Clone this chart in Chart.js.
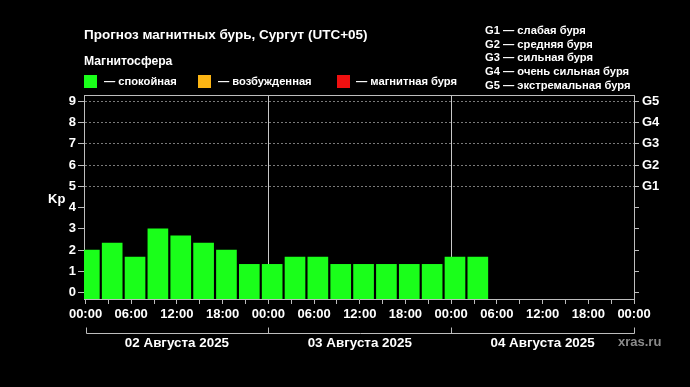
<!DOCTYPE html>
<html>
<head>
<meta charset="utf-8">
<script src="https://cdn.jsdelivr.net/npm/chart.js@4.4.1/dist/chart.umd.min.js"></script>
<style>
  html, body { margin: 0; padding: 0; background: #000; }
  #wrap { position: relative; width: 690px; height: 387px; background: #000; overflow: hidden;
          font-family: 'Liberation Sans', Arial, sans-serif; font-weight: bold; color: #fff; }
  #wrap canvas { position: absolute; left: 0; top: 0; }
  .txt { position: absolute; white-space: nowrap; line-height: 16px; }
  .sq { position: absolute; width: 13px; height: 13px; }
  #glist { position: absolute; left: 485px; top: 24px; font-size: 11.2px; line-height: 13.7px; }
</style>
</head>
<body>
<div id="wrap">
  <canvas id="kpChart" width="690" height="387"></canvas>
  <div class="txt" style="left:84px; top:27px; font-size:13.5px;">Прогноз магнитных бурь, Сургут (UTC+05)</div>
  <div class="txt" style="left:84px; top:53px; font-size:12.2px;">Магнитосфера</div>
  <div class="sq" style="left:84px; top:75px; background:#1aff1a;"></div>
  <div class="txt" style="left:104px; top:73px; font-size:11.2px;">— спокойная</div>
  <div class="sq" style="left:198px; top:75px; background:#fcb514;"></div>
  <div class="txt" style="left:218px; top:73px; font-size:11.2px;">— возбужденная</div>
  <div class="sq" style="left:337px; top:75px; background:#f01010;"></div>
  <div class="txt" style="left:356px; top:73px; font-size:11.2px;">— магнитная буря</div>
  <div id="glist"></div>
  <div class="txt" style="left:48px; top:191px; font-size:13px;">Kp</div>
  <div class="txt" style="left:618px; top:334px; font-size:13px; color:#8a8a8a;">xras.ru</div>
</div>
<script>
// Kp forecast, 3-hour slots starting 02 Aug 2025 00:00 (UTC+05)
const slotHours = [0, 3, 6, 9, 12, 15, 18, 21, 24, 27, 30, 33, 36, 39, 42, 45, 48, 51];
const kpValues = [2, 2.33, 1.67, 3, 2.67, 2.33, 2, 1.33,
                  1.33, 1.67, 1.67, 1.33, 1.33, 1.33, 1.33, 1.33,
                  1.67, 1.67];
const dayLabels = ['02 Августа 2025', '03 Августа 2025', '04 Августа 2025'];
const timeLabels = ['00:00', '06:00', '12:00', '18:00'];
const kpTicks = [0, 1, 2, 3, 4, 5, 6, 7, 8, 9];
const stormLabels = ['G1', 'G2', 'G3', 'G4', 'G5'];
const stormNames = ['слабая буря', 'средняя буря', 'сильная буря', 'очень сильная буря', 'экстремальная буря'];

document.getElementById('glist').innerHTML = stormLabels
    .map((g, i) => `<div>${g} — ${stormNames[i]}</div>`).join('');

const AXIS = '#bdbdbd';
const FONT = { family: "'Liberation Sans', Arial, sans-serif", size: 13, weight: 'bold' };
const Y_MIN = -0.3, Y_MAX = 9.3;

function kpColor(v) {
    if (v >= 5) return '#f01010';
    if (v >= 4) return '#fcb514';
    return '#1aff1a';
}

// top edge of the frame + day brackets under the time axis
const dayBrackets = {
    id: 'dayBrackets',
    afterDraw(chart) {
        const { ctx, chartArea, scales: { x } } = chart;
        ctx.save();
        ctx.strokeStyle = AXIS;
        ctx.lineWidth = 1;
        ctx.beginPath();
        ctx.moveTo(chartArea.left, chartArea.top + 0.5);
        ctx.lineTo(chartArea.right, chartArea.top + 0.5);
        ctx.stroke();

        const yLine = Math.round(chartArea.bottom + 34) + 0.5;
        ctx.beginPath();
        ctx.moveTo(Math.round(x.getPixelForValue(0)) + 0.5, yLine);
        ctx.lineTo(Math.round(x.getPixelForValue(72)) + 0.5, yLine);
        for (let i = 0; i <= dayLabels.length; i++) {
            const px = Math.round(x.getPixelForValue(i * 24)) + 0.5;
            ctx.moveTo(px, yLine);
            ctx.lineTo(px, yLine - 6);
        }
        ctx.stroke();

        ctx.fillStyle = '#fff';
        ctx.font = `bold 13.4px ${FONT.family}`;
        ctx.textAlign = 'center';
        ctx.textBaseline = 'middle';
        dayLabels.forEach((label, i) => {
            const cx = (x.getPixelForValue(i * 24) + x.getPixelForValue((i + 1) * 24)) / 2;
            ctx.fillText(label, cx, yLine + 9.5);
        });
        ctx.restore();
    }
};

new Chart(document.getElementById('kpChart'), {
    type: 'bar',
    data: {
        datasets: [{
            data: slotHours.map((h, i) => ({ x: h + 0.5, y: kpValues[i] })),
            backgroundColor: ctx => kpColor(ctx.raw ? ctx.raw.y : 0),
            borderWidth: 0,
            barThickness: 20,
            base: Y_MIN
        }]
    },
    options: {
        responsive: false,
        animation: false,
        layout: { padding: { top: 95, bottom: 48, left: 0, right: 0 } },
        plugins: { legend: { display: false }, tooltip: { enabled: false }, title: { display: false } },
        scales: {
            x: {
                type: 'linear',
                offset: false,
                min: -0.2,
                max: 72,
                afterBuildTicks: s => {
                    const t = [];
                    for (let v = 0; v <= 72; v += 3) t.push({ value: v });
                    s.ticks = t;
                },
                afterFit: s => { s.height = 40; },
                grid: {
                    offset: false,
                    color: c => (c.tick && (c.tick.value === 24 || c.tick.value === 48)) ? '#c8c8c8' : 'transparent',
                    tickColor: AXIS,
                    tickLength: 5
                },
                border: { color: AXIS, width: 1 },
                ticks: {
                    color: '#fff',
                    font: FONT,
                    padding: 3,
                    autoSkip: false,
                    maxRotation: 0,
                    callback: v => (v % 6 === 0 ? timeLabels[(v % 24) / 6] : '')
                }
            },
            y: {
                min: Y_MIN,
                max: Y_MAX,
                afterBuildTicks: s => { s.ticks = kpTicks.map(v => ({ value: v })); },
                afterFit: s => { s.width = 84; },
                grid: {
                    color: c => (c.tick && c.tick.value >= 5) ? '#7a7a7a' : 'transparent',
                    tickColor: AXIS,
                    tickLength: 6
                },
                border: { color: AXIS, width: 1, dash: c => (c.tick ? [2, 2] : []) },
                ticks: { color: '#fff', font: FONT, padding: 2, callback: v => String(v) }
            },
            g: {
                position: 'right',
                min: Y_MIN,
                max: Y_MAX,
                afterBuildTicks: s => { s.ticks = kpTicks.map(v => ({ value: v })); },
                afterFit: s => { s.width = 56; },
                grid: { drawOnChartArea: false, tickColor: AXIS, tickLength: 5 },
                border: { color: AXIS, width: 1 },
                ticks: {
                    color: '#fff',
                    font: FONT,
                    padding: 3,
                    callback: v => (v >= 5 ? stormLabels[v - 5] : '')
                }
            }
        }
    },
    plugins: [dayBrackets]
});
</script>
</body>
</html>
